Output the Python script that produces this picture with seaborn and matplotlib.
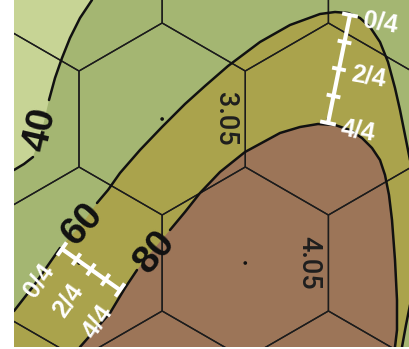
import numpy as np
import pandas as pd
import matplotlib
matplotlib.use("Agg")
import matplotlib.pyplot as plt
from matplotlib.patches import RegularPolygon, Polygon
import seaborn as sns

# ---------------- data (pixel units) ----------------
c40_x = [92, 80, 70, 62, 55, 49, 42, 37, 33, 24, 14]
c40_y = [0, 18, 38, 58, 78, 100, 130, 145, 157, 164, 170]
c40_gap = (5, 8)
c40_label = ("40", 41, 130, 77)

c60_x = [14, 35, 60, 82, 97, 108, 120, 140, 162, 185, 205, 228, 260, 290, 320, 335, 348, 360, 370, 380, 388, 395, 400, 405, 410, 420]
c60_y = [311, 284, 248, 224, 203, 190, 173, 150, 127, 104, 86, 66, 42, 25, 14, 12, 13, 18, 27, 42, 62, 88, 110, 135, 160, 200]
c60_gap = (2, 4)
c60_label = ("60", 83, 224, 48)
c60b_x = [420, 410, 406, 402, 400]
c60b_y = [290, 305, 325, 347, 360]

c80_x = [75, 80, 95, 110, 125, 137, 153, 170, 185, 200, 220, 245, 280, 300, 318, 335, 350, 362, 372, 380, 385, 389, 392, 395, 397, 397, 395, 395]
c80_y = [360, 347, 330, 313, 288, 270, 250, 230, 212, 193, 172, 152, 133, 127, 124, 125, 130, 138, 148, 160, 175, 195, 220, 260, 300, 330, 347, 360]
c80_gap = (5, 7)
c80_label = ("80", 155, 252, 50)

level_colors = ["#c7d495", "#a4b672", "#aaa34c", "#9c7558"]   # <40, 40-60, 60-80, >80

hex_rows = [1, 2]
hex_cols = [1, 1]
hex_values = [3.05, 4.05]

scale_labels = ["0/4", "1/4", "2/4", "3/4", "4/4"]
scale_shown = [0, 2, 4]

# ---------------- layout ----------------
W, H = 410, 349
X0, X1, Y0, Y1 = 14, 410, 0, 347
fig = plt.figure(figsize=(W / 100, H / 100), dpi=100)
sns.set_theme(style="white")
plt.rcParams["font.family"] = ["Liberation Sans", "DejaVu Sans"]
ax = fig.add_axes([X0 / W, (H - Y1) / H, (X1 - X0) / W, (Y1 - Y0) / H])
ax.set_xlim(X0, X1)
ax.set_ylim(Y1, Y0)
ax.axis("off")

# background / filled levels
ax.add_patch(Polygon([(-20, -20), (500, -20), (500, 400), (-20, 400)], closed=True,
                     facecolor=level_colors[1], edgecolor="none", zorder=0))
light = [(-20, -20), (c40_x[0], -20)] + list(zip(c40_x, c40_y)) + [(-20, c40_y[-1])]
ax.add_patch(Polygon(light, closed=True, facecolor=level_colors[0], edgecolor="none", zorder=1))
olive = [(-20, c60_y[0] + 20)] + list(zip(c60_x, c60_y)) + list(zip(c60b_x, c60b_y)) + [(-20, 400)]
ax.add_patch(Polygon(olive, closed=True, facecolor=level_colors[2], edgecolor="none", zorder=1))
brown = list(zip(c80_x, c80_y))
ax.add_patch(Polygon(brown, closed=True, facecolor=level_colors[3], edgecolor="none", zorder=2))

# hex grid
hs = 96.0
hdx = np.sqrt(3) * hs
hdy = 1.5 * hs
ox, oy = 79, -25
centers = []
for r in range(0, 4):
    for c in range(-1, 4):
        cx = ox + hdx * c - (hdx / 2) * (r % 2)
        cy = oy + hdy * r
        centers.append((cx, cy))
        ax.add_patch(RegularPolygon((cx, cy), numVertices=6, radius=hs, orientation=0,
                                    facecolor="none", edgecolor="#1c1c1c", lw=1.0, zorder=3))
cdf = pd.DataFrame(centers, columns=["x", "y"])
sns.scatterplot(data=cdf, x="x", y="y", color="#111111", s=7, edgecolor="none", ax=ax, zorder=4)
for r, c, v in zip(hex_rows, hex_cols, hex_values):
    cx = ox + hdx * c - (hdx / 2) * (r % 2)
    cy = oy + hdy * r
    ax.text(cx + 63, cy, f"{v:.2f}", rotation=-90, ha="center", va="center",
            fontsize=19.5, color="#1e1e1e", family=["Roboto", "DejaVu Sans"],
            fontweight="medium", zorder=6)

# contour lines
def draw_contour(xs, ys, gap, label):
    segs = [(0, gap[0] + 1), (gap[1], len(xs))]
    for a, b in segs:
        d = pd.DataFrame({"x": xs[a:b], "y": ys[a:b]})
        sns.lineplot(data=d, x="x", y="y", sort=False, estimator=None, color="#111111",
                     lw=1.8, ax=ax, zorder=5)
    t, lx, ly, rot = label
    ax.text(lx, ly, t, rotation=rot, ha="center", va="center", fontsize=28,
            fontweight="bold", color="#111111", zorder=6)

draw_contour(c40_x, c40_y, c40_gap, c40_label)
draw_contour(c60_x, c60_y, c60_gap, c60_label)
draw_contour(c80_x, c80_y, c80_gap, c80_label)
sns.lineplot(x=c60b_x, y=c60b_y, sort=False, estimator=None, color="#111111", lw=1.8, ax=ax, zorder=5)

# scale bars
def scale_bar(p0, p1, lab_off, rot):
    p0 = np.array(p0, float); p1 = np.array(p1, float)
    d = p1 - p0
    u = d / np.linalg.norm(d)
    n = np.array([-u[1], u[0]])
    ax.plot([p0[0], p1[0]], [p0[1], p1[1]], color="white", lw=3.0, zorder=7, solid_capstyle="butt")
    k = len(scale_labels)
    for i in range(k):
        p = p0 + d * i / (k - 1)
        half = 8 if i in (0, k - 1) else 7
        ax.plot([p[0] - n[0] * half, p[0] + n[0] * half], [p[1] - n[1] * half, p[1] + n[1] * half],
                color="white", lw=2.8, zorder=7, solid_capstyle="butt")
        if i in scale_shown:
            q = p + np.array(lab_off)
            ax.text(q[0], q[1], scale_labels[i], rotation=rot, ha="center", va="center",
                    fontsize=18, fontweight="bold", color="white", zorder=8)

scale_bar((350, 15), (328, 123), (30, 8), -10)
scale_bar((62, 249), (120, 290), (-23, 31), 55)

fig.savefig("out.png", dpi=100)
